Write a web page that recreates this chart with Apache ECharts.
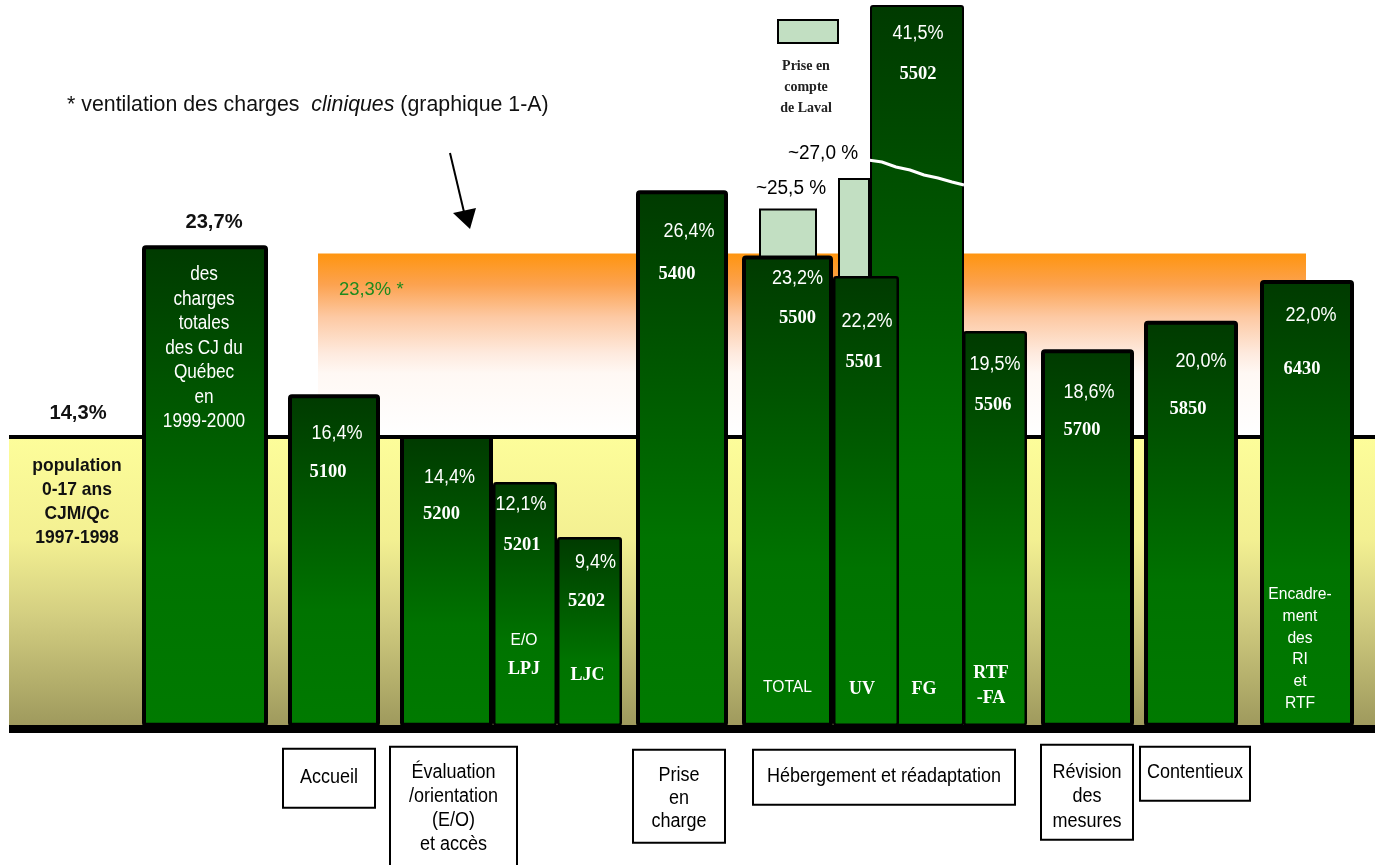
<!DOCTYPE html>
<html>
<head>
<meta charset="utf-8">
<script src="https://cdn.jsdelivr.net/npm/echarts@6/dist/echarts.min.js"></script>
<style>
  html, body { margin: 0; padding: 0; background: #ffffff; }
  #chart { width: 1375px; height: 865px; }
</style>
</head>
<body>
<div id="chart"></div>
<script>
// Cost centres and their share (%) of the total charges of the Québec youth centres
const codes = ['', '5100', '5200', '5201', '5202', '5400', '5500', '5501', '5502', '5506', '5700', '5850', '6430'];
const shares = [23.7, 16.4, 14.4, 12.1, 9.4, 26.4, 23.2, 22.2, 41.5, 19.5, 18.6, 20.0, 22.0];
const barNotes = ['des\ncharges\ntotales\ndes CJ du\nQuébec\nen\n1999-2000', '', '', 'E/O\nLPJ', 'LJC', '', 'TOTAL', 'UV', 'FG', 'RTF\n-FA', '', '', 'Encadre-\nment\ndes\nRI\net\nRTF'];

// Shares once Laval is taken into account
const lavalCodes = ['5500', '5501'];
const lavalShares = [25.5, 27.0];

// Reference levels
const populationShare = 14.3;
const clinicalShare = 23.3;
const populationNote = 'population\n0-17 ans\nCJM/Qc\n1997-1998';

// Program groups written under the axis
const groupNames = ['Accueil', 'Évaluation\n/orientation\n(E/O)\net accès', 'Prise\nen\ncharge', 'Hébergement et réadaptation', 'Révision\ndes\nmesures', 'Contentieux'];

const SANS = '"Liberation Sans", Arial, sans-serif';
const SERIF = '"Liberation Serif", "Times New Roman", serif';
const NARROW = 0.9; // horizontal squeeze that gives the sans text its narrow look

// ---- layout (x in axis units, label offsets in px) ----
const barLayout = [
  { x0: 142, x1: 268, lw: 4, pct: { dx: 9, dy: -23, out: true }, note: { dx: -1, dy: 103, from: 'top', lh: 24.5, fonts: ['w'] } },
  { x0: 288, x1: 380, lw: 4, pct: { dx: 3, dy: 39 }, code: { dx: -6, dy: 78 } },
  { x0: 400, x1: 493, lw: 4, pct: { dx: 3, dy: 42 }, code: { dx: -5, dy: 79 } },
  { x0: 493, x1: 557, lw: 2.5, pct: { dx: -4, dy: 23 }, code: { dx: -3, dy: 63 }, note: { dx: -1, dy: -74, from: 'base', lh: 29, fonts: ['s', 't'] } },
  { x0: 557, x1: 622, lw: 2.5, pct: { dx: 6, dy: 25 }, code: { dx: -3, dy: 64 }, note: { dx: -2, dy: -53, from: 'base', lh: 22, fonts: ['t'] } },
  { x0: 636, x1: 728, lw: 4, pct: { dx: 7, dy: 41 }, code: { dx: -5, dy: 84 } },
  { x0: 742, x1: 833, lw: 4, pct: { dx: 10, dy: 23 }, code: { dx: 10, dy: 63 }, note: { dx: 0, dy: -41, from: 'base', lh: 22, fonts: ['s'] } },
  { x0: 833, x1: 899, lw: 2.5, pct: { dx: 1, dy: 46 }, code: { dx: -2, dy: 86 }, note: { dx: -4, dy: -39, from: 'base', lh: 22, fonts: ['t'] } },
  { x0: 870, x1: 964, lw: 2, broken: true, pct: { dx: 1, dy: 28 }, code: { dx: 1, dy: 69 }, note: { dx: 7, dy: -39, from: 'base', lh: 22, fonts: ['t'] } },
  { x0: 963, x1: 1027, lw: 2.5, pct: { dx: 0, dy: 33 }, code: { dx: -2, dy: 74 }, note: { dx: -4, dy: -43, from: 'base', lh: 25, fonts: ['t', 't'] } },
  { x0: 1041, x1: 1134, lw: 4, pct: { dx: 1.5, dy: 43 }, code: { dx: -5.5, dy: 81 } },
  { x0: 1144, x1: 1238, lw: 4, pct: { dx: 10, dy: 41 }, code: { dx: -3, dy: 88 } },
  { x0: 1260, x1: 1354, lw: 4, pct: { dx: 4, dy: 35 }, code: { dx: -5, dy: 89 }, note: { dx: -7, dy: -80, from: 'base', lh: 21.8, fonts: ['e'] } }
];
const lavalLayout = [
  { x0: 759, x1: 817, dx: 3, dy: -20 },
  { x0: 838, x1: 870, dx: -31, dy: -25 }
];
const groupLayout = [
  { x0: 283, x1: 375, top: 20, bottom: 79, ty: 49, lh: 24 },
  { x0: 390, x1: 517, top: 18, bottom: 142, ty: 80, lh: 24 },
  { x0: 633, x1: 725, top: 21, bottom: 114, ty: 70, lh: 23 },
  { x0: 753, x1: 1015, top: 21, bottom: 76, ty: 48, lh: 24 },
  { x0: 1041, x1: 1133, top: 16, bottom: 111, ty: 68, lh: 24.5 },
  { x0: 1140, x1: 1250, top: 18, bottom: 72, ty: 44, lh: 24 }
];
const noteFonts = {
  w: { serif: false, size: 20, sx: 0.86 },
  s: { serif: false, size: 17, sx: 0.92 },
  t: { serif: true, size: 18 },
  e: { serif: false, size: 17, sx: 0.92 }
};

const fmtPct = v => v.toFixed(1).replace('.', ',') + '%';

// one text element; sans text is squeezed horizontally around its anchor
function label(text, x, y, o) {
  o = o || {};
  const serif = !!o.serif;
  return {
    type: 'text',
    x: x, y: y,
    scaleX: serif ? 1 : (o.sx || NARROW),
    z2: o.z2 || 20,
    style: {
      text: text, x: 0, y: 0,
      align: o.align || 'center', verticalAlign: 'middle',
      fontFamily: serif ? SERIF : SANS,
      fontSize: o.size || 20,
      fontWeight: o.bold ? 'bold' : 'normal',
      fontStyle: o.italic ? 'italic' : 'normal',
      fill: o.color || '#ffffff',
      lineHeight: o.lh || undefined
    }
  };
}

const barFill = {
  type: 'linear', x: 0, y: 0, x2: 0, y2: 1,
  colorStops: [
    { offset: 0, color: '#003a00' },
    { offset: 0.65, color: '#007300' },
    { offset: 1, color: '#007a00' }
  ]
};

function renderBar(params, api) {
  const i = params.dataIndex;
  const L = barLayout[i];
  const v = api.value(1);
  const cs = params.coordSys;
  const pTop = api.coord([L.x0, v]);
  const pBase = api.coord([L.x1, 0]);
  const x0 = pTop[0], x1 = pBase[0], base = pBase[1];
  let top = pTop[1];
  if (L.broken) top = Math.max(top, cs.y + 5);
  const cx = (x0 + x1) / 2;
  const z = L.broken ? 1 : 5;
  const h = L.lw / 2;
  const children = [{
    type: 'rect',
    z2: z,
    shape: { x: x0 + h, y: top + h, width: x1 - x0 - L.lw, height: base - top - h - 4, r: 2 },
    style: { fill: barFill, stroke: '#000000', lineWidth: L.lw }
  }];
  if (L.broken) {
    // the bar is cut: it goes on past the top of the chart
    const pts = [[x0 - 2, top + 155], [x0 + 12, top + 157], [x0 + 26, top + 162], [x0 + 40, top + 165],
                 [x0 + 54, top + 170], [x0 + 68, top + 173], [x0 + 82, top + 177], [x1, top + 180]];
    children.push({ type: 'polyline', z2: z + 1, shape: { points: pts }, style: { stroke: '#ffffff', lineWidth: 3, fill: null } });
  }
  if (L.pct) {
    children.push(L.pct.out
      ? label(fmtPct(v), cx + L.pct.dx, top + L.pct.dy, { size: 21, bold: true, color: '#111111', sx: 0.96 })
      : label(fmtPct(v), cx + L.pct.dx, top + L.pct.dy, { size: 20, sx: 0.9 }));
  }
  if (L.code && codes[i]) {
    children.push(label(codes[i], cx + L.code.dx, top + L.code.dy, { serif: true, bold: true, size: 18.5 }));
  }
  if (L.note && barNotes[i]) {
    const lines = barNotes[i].split('\n');
    const y0 = (L.note.from === 'top' ? top : base) + L.note.dy - (lines.length - 1) * L.note.lh / 2;
    lines.forEach((ln, k) => {
      const f = noteFonts[L.note.fonts[k] || L.note.fonts[0]];
      children.push(label(ln, cx + L.note.dx, y0 + k * L.note.lh,
        { serif: f.serif, bold: f.serif, size: f.size, sx: f.sx }));
    });
  }
  return { type: 'group', children: children };
}

function renderLaval(params, api) {
  const i = params.dataIndex;
  const L = lavalLayout[i];
  const v = api.value(1);
  const pTop = api.coord([L.x0, v]);
  const pBase = api.coord([L.x1, 0]);
  const cx = (pTop[0] + pBase[0]) / 2;
  return {
    type: 'group',
    children: [{
      type: 'rect',
      shape: { x: pTop[0] + 1, y: pTop[1] + 1, width: pBase[0] - pTop[0] - 2, height: pBase[1] - pTop[1] - 6 },
      style: { fill: '#c2dfc2', stroke: '#000000', lineWidth: 2 }
    },
    label('~' + fmtPct(v).replace('%', ' %'), cx + L.dx, pTop[1] + L.dy, { size: 20, color: '#000000', sx: 0.95 })]
  };
}

function renderBands(params, api) {
  const i = params.dataIndex;
  const v = api.value(1);
  if (i === 0) {
    // population reference: yellow band under the 14,3 % line
    const pTop = api.coord([9, v]);
    const pBase = api.coord([1375, 0]);
    return {
      type: 'group',
      children: [{
        type: 'rect',
        shape: { x: pTop[0], y: pTop[1], width: pBase[0] - pTop[0], height: pBase[1] - pTop[1] },
        style: {
          fill: {
            type: 'linear', x: 0, y: 0, x2: 0, y2: 1,
            colorStops: [
              { offset: 0, color: '#fdfd9a' },
              { offset: 0.35, color: '#f3f092' },
              { offset: 0.62, color: '#d2cd80' },
              { offset: 1, color: '#9d985c' }
            ]
          }
        }
      }, {
        type: 'rect', z2: 3,
        shape: { x: pTop[0], y: pTop[1] - 2, width: pBase[0] - pTop[0], height: 4 },
        style: { fill: '#000000' }
      },
      label(fmtPct(v), 78, pTop[1] - 24, { size: 21, bold: true, color: '#111111', sx: 0.96 }),
      label(populationNote, 77, pTop[1] + 65, { size: 19, bold: true, color: '#111111', lh: 24, sx: 0.92 })]
    };
  }
  // clinical charges reference: orange band fading towards the 14,3 % line
  const pTop = api.coord([318, v]);
  const pBase = api.coord([1306, populationShare]);
  return {
    type: 'group',
    children: [{
      type: 'rect',
      shape: { x: pTop[0], y: pTop[1], width: pBase[0] - pTop[0], height: pBase[1] - pTop[1] - 2 },
      style: {
        fill: {
          type: 'linear', x: 0, y: 0, x2: 0, y2: 1,
          colorStops: [
            { offset: 0, color: '#ff950f' },
            { offset: 0.17, color: '#fca24f' },
            { offset: 0.35, color: '#fdc9a3' },
            { offset: 0.55, color: '#feeade' },
            { offset: 0.66, color: '#fff8f4' },
            { offset: 1, color: '#ffffff' }
          ]
        }
      }
    },
    label(fmtPct(v) + ' *', pTop[0] + 21, pTop[1] + 36, { size: 19, color: '#1e8a1e', align: 'left', sx: 0.97 })]
  };
}

function renderGroups(params, api) {
  const L = groupLayout[params.dataIndex];
  const p0 = api.coord([L.x0, 0]);
  const p1 = api.coord([L.x1, 0]);
  const base = p0[1];
  return {
    type: 'group',
    children: [{
      type: 'rect',
      shape: { x: p0[0], y: base + L.top, width: p1[0] - p0[0], height: L.bottom - L.top },
      style: { fill: '#ffffff', stroke: '#000000', lineWidth: 2 }
    },
    label(groupNames[params.dataIndex], (p0[0] + p1[0]) / 2, base + L.ty,
      { size: 20, color: '#000000', lh: L.lh, sx: 0.9 })]
  };
}

const chart = echarts.init(document.getElementById('chart'), null, { renderer: 'canvas' });
chart.setOption({
  animation: false,
  backgroundColor: '#ffffff',
  grid: { left: 9, right: 0, top: 0, bottom: 136.2 },
  xAxis: {
    type: 'value', min: 9, max: 1375, z: 10,
    axisLine: { show: true, onZero: false, lineStyle: { color: '#000000', width: 8, cap: 'butt' } },
    axisTick: { show: false }, axisLabel: { show: false }, splitLine: { show: false }
  },
  yAxis: {
    type: 'value', min: 0, max: 35.725, show: false, splitLine: { show: false }
  },
  series: [
    { type: 'custom', name: 'références', clip: false, z: 1, renderItem: renderBands,
      data: [[0, populationShare], [1, clinicalShare]] },
    { type: 'custom', name: 'Prise en compte de Laval', clip: false, z: 2, renderItem: renderLaval,
      data: lavalShares.map((v, i) => [i, v]) },
    { type: 'custom', name: 'charges', clip: false, z: 3, renderItem: renderBar,
      data: shares.map((v, i) => [i, v]) },
    { type: 'custom', name: 'programmes', clip: false, z: 4, renderItem: renderGroups,
      data: groupNames.map((n, i) => [i, 0]) }
  ],
  graphic: [
    {
      type: 'text', x: 67, y: 105, scaleX: 0.97,
      style: {
        x: 0, y: 0, verticalAlign: 'middle',
        text: '{n|* ventilation des charges  }{i|cliniques}{n| (graphique 1-A)}',
        rich: {
          n: { fontFamily: SANS, fontSize: 22, fill: '#111111' },
          i: { fontFamily: SANS, fontSize: 22, fontStyle: 'italic', fill: '#111111' }
        }
      }
    },
    { type: 'line', shape: { x1: 450, y1: 153, x2: 464, y2: 212 }, style: { stroke: '#000000', lineWidth: 2 } },
    { type: 'polygon', shape: { points: [[453, 213], [476, 208], [470, 229]] }, style: { fill: '#000000' } },
    { type: 'rect', shape: { x: 778, y: 20, width: 60, height: 23 }, style: { fill: '#c2dfc2', stroke: '#000000', lineWidth: 2 } },
    {
      type: 'text', x: 806, y: 87,
      style: {
        x: 0, y: 0,
        text: 'Prise en\ncompte\nde Laval', align: 'center', verticalAlign: 'middle', lineHeight: 21,
        fontFamily: SERIF, fontSize: 14, fontWeight: 'bold', fill: '#222222'
      }
    }
  ]
});
</script>
</body>
</html>
